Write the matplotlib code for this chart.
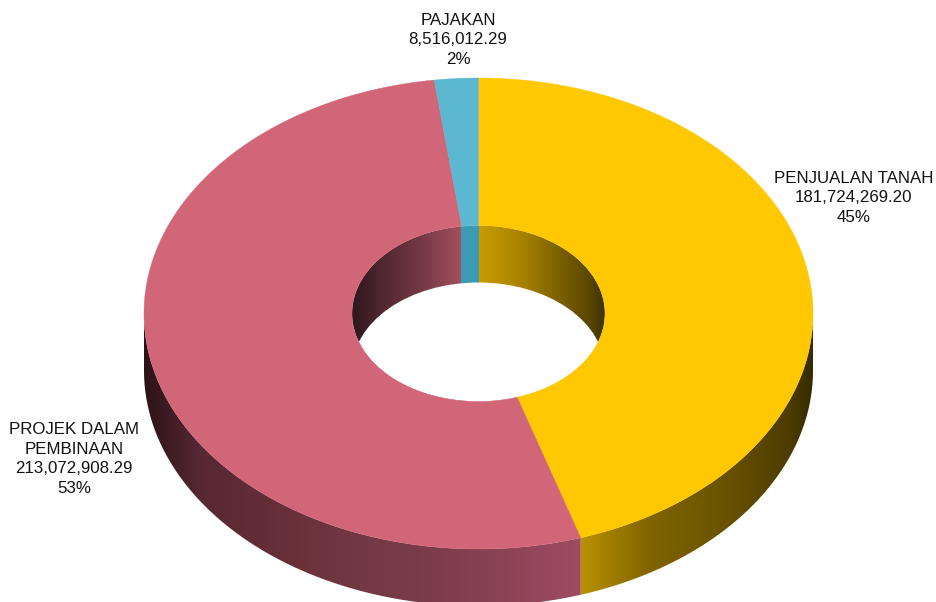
import numpy as np
import matplotlib
matplotlib.use('Agg')
import matplotlib.pyplot as plt
from matplotlib.patches import Ellipse, Polygon
from matplotlib.colors import to_rgb

names = ['PENJUALAN TANAH', 'PROJEK DALAM\nPEMBINAAN', 'PAJAKAN']
values = [181724269.20, 213072908.29, 8516012.29]
top_colors = ['#FFC800', '#D16678', '#5BB8D0']

# shading of the side walls, position along x -> colour
wall_stops = [
    [(478, '#C89C00'), (582, '#B89000'), (650, '#806400'), (720, '#6B5400'), (790, '#4C3C00'), (813, '#362B00')],
    [(144, '#2C1317'), (200, '#572833'), (300, '#6B3139'), (350, '#713842'), (450, '#7F3D4D'), (582, '#A04B63')],
    [(430, '#3D9AB5'), (480, '#3D9AB5')],
]
inner_stops = [
    [(478, '#C89C00'), (520, '#A98400'), (560, '#7A6000'), (590, '#5A4700'), (605, '#3F3200')],
    [(352, '#2E171C'), (380, '#4F2630'), (420, '#733844'), (463, '#A5505F')],
    [(455, '#3D9AB5'), (480, '#3D9AB5')],
]

cx, cy = 478.5, 313.5
rx, ry = 334.5, 235.5
hx, hy = 126.5, 88
depth = 57

plt.rcParams['font.family'] = ['Liberation Sans', 'DejaVu Sans']
fig = plt.figure(figsize=(9.36, 6.02), dpi=100)
ax = fig.add_axes([0, 0, 1, 1])


def ell(t, a, b):
    return cx + a * np.sin(t), cy - b * np.cos(t)


def gradient(x0, x1, y0, y1, stops, clip, z):
    # horizontal gradient image, cut to shape by a patch
    xs = np.arange(np.floor(x0), np.ceil(x1) + 1)
    pos = [s[0] for s in stops]
    rgb = np.array([to_rgb(s[1]) for s in stops])
    row = np.stack([np.interp(xs, pos, rgb[:, k]) for k in range(3)], axis=-1)[None, :, :]
    im = ax.imshow(row, extent=[xs[0], xs[-1], y1, y0], aspect='auto', interpolation='bilinear', zorder=z)
    im.set_clip_path(clip)


fracs = np.array(values) / sum(values)
edges = np.concatenate([[0], np.cumsum(fracs)]) * 2 * np.pi

# hole and its back wall
hole = Ellipse((cx, cy), 2 * hx, 2 * hy, fc='white', ec='none', zorder=1)
ax.add_patch(hole)

for i in range(len(values)):
    t0, t1 = edges[i], edges[i + 1]
    # outer wall, front half only
    a, b = max(t0, np.pi / 2), min(t1, 3 * np.pi / 2)
    if b > a:
        ts = np.linspace(a, b, 300)
        x, y = ell(ts, rx, ry)
        pts = np.column_stack([np.r_[x, x[::-1]], np.r_[y, y[::-1] + depth]])
        shape = Polygon(pts, closed=True, fc='none', ec='none')
        ax.add_patch(shape)
        gradient(x.min(), x.max(), y.min(), y.max() + depth, wall_stops[i], shape, 2)
    # inner wall, back half only
    for lo, hi in [(0, np.pi / 2), (3 * np.pi / 2, 2 * np.pi)]:
        a, b = max(t0, lo), min(t1, hi)
        if b > a:
            x, y = ell(np.linspace(a, b, 100), hx, hy)
            gradient(x.min(), x.max(), cy - hy, cy + hy, inner_stops[i], hole, 2)

# what is seen through the hole below the wall
through = Ellipse((cx, cy + depth), 2 * hx, 2 * hy, fc='white', ec='none', zorder=2.5)
ax.add_patch(through)
through.set_clip_path(hole)

for i in range(len(values)):
    ts = np.linspace(edges[i], edges[i + 1], 300)
    ox, oy = ell(ts, rx, ry)
    ix, iy = ell(ts[::-1], hx, hy)
    pts = np.column_stack([np.concatenate([ox, ix]), np.concatenate([oy, iy])])
    ax.add_patch(Polygon(pts, closed=True, fc=top_colors[i], ec=top_colors[i], lw=0.3, zorder=3))

label_pos = [(854, 198), (74, 459), (458, 40)]
for name, v, f, (lx, ly) in zip(names, values, fracs, label_pos):
    ax.text(lx, ly, f'{name}\n{v:,.2f}\n{f * 100:.0f}%', ha='center', va='center',
            fontsize=12.2, linespacing=1.4, color='#111111', zorder=5)

ax.set_xlim(0, 936)
ax.set_ylim(602, 0)
ax.axis('off')

fig.savefig('out.png', dpi=100)
